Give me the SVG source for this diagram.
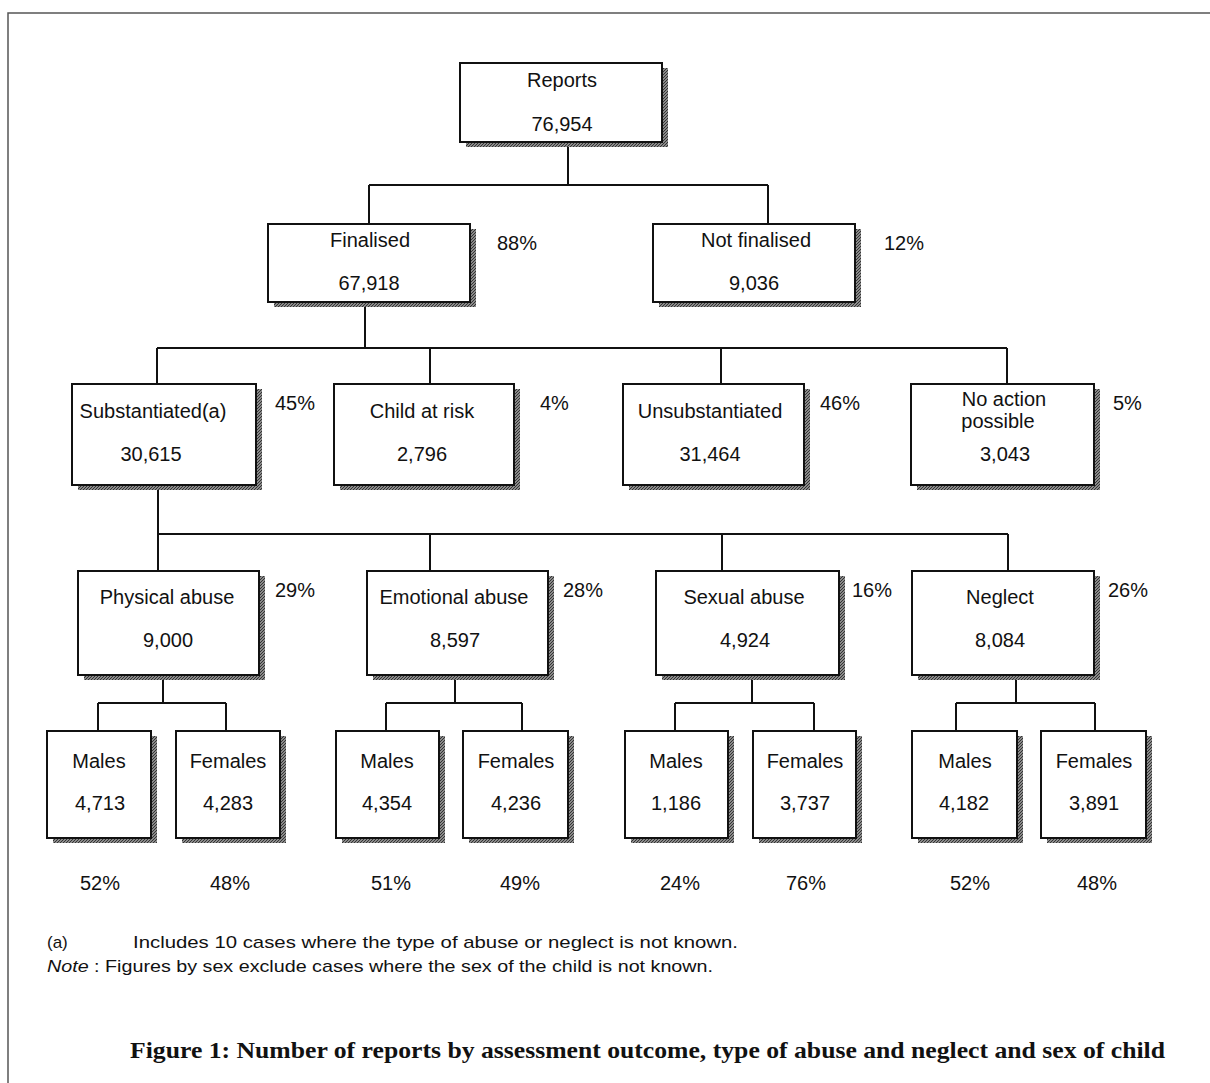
<svg xmlns="http://www.w3.org/2000/svg" width="1210" height="1083" viewBox="0 0 1210 1083">
<defs>
<pattern id="hatch" width="3" height="3" patternUnits="userSpaceOnUse">
<rect width="3" height="3" fill="#8a8a8a"/>
<path d="M0 3 L3 0" stroke="#333" stroke-width="1"/>
</pattern>
</defs>
<style>
.sh{fill:url(#hatch);}
.bx{fill:#fff;stroke:#111;stroke-width:2;}
.t{font-family:"Liberation Sans",Arial,sans-serif;font-size:20px;fill:#111;text-anchor:middle;}
.p{font-family:"Liberation Sans",Arial,sans-serif;font-size:20px;fill:#111;}
.fn{font-family:"Liberation Sans",Arial,sans-serif;font-size:17px;fill:#111;}
.cap{font-family:"Liberation Serif","Times New Roman",serif;font-size:24px;font-weight:bold;fill:#111;}
.ln{fill:none;stroke:#111;stroke-width:2;}
.fr{fill:none;stroke:#555;stroke-width:1.5;}
</style>
<rect width="1210" height="1083" fill="#fff"/>
<path class="fr" d="M8 1083 V13 H1210"/>

<g id="connectors">
<path class="ln" d="M568 142 V185 M369 185 H768 M369 185 V224 M768 185 V224"/>
<path class="ln" d="M365 302 V348 M157 348 H1007 M157 348 V384 M430 348 V384 M721 348 V384 M1007 348 V384"/>
<path class="ln" d="M158 485 V534 M158 534 H1008 M158 534 V571 M430 534 V571 M722 534 V571 M1008 534 V571"/>
<path class="ln" d="M163 675 V703 M98 703 H226 M98 703 V731 M226 703 V731"/>
<path class="ln" d="M455 675 V703 M386 703 H522 M386 703 V731 M522 703 V731"/>
<path class="ln" d="M752 675 V703 M675 703 H814 M675 703 V731 M814 703 V731"/>
<path class="ln" d="M1016 675 V703 M956 703 H1095 M956 703 V731 M1095 703 V731"/>
</g>

<g id="n-reports">
<rect class="sh" x="466" y="68" width="202" height="79"/>
<rect class="bx" x="460" y="63" width="202" height="79"/>
<text class="t" x="562" y="87">Reports</text>
<text class="t" x="562" y="131">76,954</text>
</g>

<g id="n-finalised">
<rect class="sh" x="274" y="229" width="202" height="78"/>
<rect class="bx" x="268" y="224" width="202" height="78"/>
<text class="t" x="370" y="247">Finalised</text>
<text class="t" x="369" y="290">67,918</text>
<text class="p" x="497" y="250">88%</text>
</g>

<g id="n-notfinalised">
<rect class="sh" x="659" y="229" width="202" height="78"/>
<rect class="bx" x="653" y="224" width="202" height="78"/>
<text class="t" x="756" y="247">Not finalised</text>
<text class="t" x="754" y="290">9,036</text>
<text class="p" x="884" y="250">12%</text>
</g>

<g id="n-substantiated">
<rect class="sh" x="78" y="389" width="184" height="101"/>
<rect class="bx" x="72" y="384" width="184" height="101"/>
<text class="t" x="153" y="418">Substantiated(a)</text>
<text class="t" x="151" y="461">30,615</text>
<text class="p" x="275" y="410">45%</text>
</g>

<g id="n-childatrisk">
<rect class="sh" x="340" y="389" width="180" height="101"/>
<rect class="bx" x="334" y="384" width="180" height="101"/>
<text class="t" x="422" y="418">Child at risk</text>
<text class="t" x="422" y="461">2,796</text>
<text class="p" x="540" y="410">4%</text>
</g>

<g id="n-unsubstantiated">
<rect class="sh" x="629" y="389" width="181" height="101"/>
<rect class="bx" x="623" y="384" width="181" height="101"/>
<text class="t" x="710" y="418">Unsubstantiated</text>
<text class="t" x="710" y="461">31,464</text>
<text class="p" x="820" y="410">46%</text>
</g>

<g id="n-noaction">
<rect class="sh" x="917" y="389" width="183" height="101"/>
<rect class="bx" x="911" y="384" width="183" height="101"/>
<text class="t" x="1004" y="406">No action</text>
<text class="t" x="998" y="428">possible</text>
<text class="t" x="1005" y="461">3,043</text>
<text class="p" x="1113" y="410">5%</text>
</g>

<g id="n-physical">
<rect class="sh" x="84" y="576" width="181" height="104"/>
<rect class="bx" x="78" y="571" width="181" height="104"/>
<text class="t" x="167" y="604">Physical abuse</text>
<text class="t" x="168" y="647">9,000</text>
<text class="p" x="275" y="597">29%</text>
</g>

<g id="n-emotional">
<rect class="sh" x="373" y="576" width="181" height="104"/>
<rect class="bx" x="367" y="571" width="181" height="104"/>
<text class="t" x="454" y="604">Emotional abuse</text>
<text class="t" x="455" y="647">8,597</text>
<text class="p" x="563" y="597">28%</text>
</g>

<g id="n-sexual">
<rect class="sh" x="662" y="576" width="183" height="104"/>
<rect class="bx" x="656" y="571" width="183" height="104"/>
<text class="t" x="744" y="604">Sexual abuse</text>
<text class="t" x="745" y="647">4,924</text>
<text class="p" x="852" y="597">16%</text>
</g>

<g id="n-neglect">
<rect class="sh" x="918" y="576" width="182" height="104"/>
<rect class="bx" x="912" y="571" width="182" height="104"/>
<text class="t" x="1000" y="604">Neglect</text>
<text class="t" x="1000" y="647">8,084</text>
<text class="p" x="1108" y="597">26%</text>
</g>

<g id="n-males1">
<rect class="sh" x="53" y="736" width="104" height="107"/>
<rect class="bx" x="47" y="731" width="104" height="107"/>
<text class="t" x="99" y="768">Males</text>
<text class="t" x="100" y="810">4,713</text>
<text class="t" x="100" y="890">52%</text>
</g>
<g id="n-females1">
<rect class="sh" x="182" y="736" width="104" height="107"/>
<rect class="bx" x="176" y="731" width="104" height="107"/>
<text class="t" x="228" y="768">Females</text>
<text class="t" x="228" y="810">4,283</text>
<text class="t" x="230" y="890">48%</text>
</g>

<g id="n-males2">
<rect class="sh" x="342" y="736" width="103" height="107"/>
<rect class="bx" x="336" y="731" width="103" height="107"/>
<text class="t" x="387" y="768">Males</text>
<text class="t" x="387" y="810">4,354</text>
<text class="t" x="391" y="890">51%</text>
</g>
<g id="n-females2">
<rect class="sh" x="469" y="736" width="105" height="107"/>
<rect class="bx" x="463" y="731" width="105" height="107"/>
<text class="t" x="516" y="768">Females</text>
<text class="t" x="516" y="810">4,236</text>
<text class="t" x="520" y="890">49%</text>
</g>

<g id="n-males3">
<rect class="sh" x="631" y="736" width="103" height="107"/>
<rect class="bx" x="625" y="731" width="103" height="107"/>
<text class="t" x="676" y="768">Males</text>
<text class="t" x="676" y="810">1,186</text>
<text class="t" x="680" y="890">24%</text>
</g>
<g id="n-females3">
<rect class="sh" x="759" y="736" width="103" height="107"/>
<rect class="bx" x="753" y="731" width="103" height="107"/>
<text class="t" x="805" y="768">Females</text>
<text class="t" x="805" y="810">3,737</text>
<text class="t" x="806" y="890">76%</text>
</g>

<g id="n-males4">
<rect class="sh" x="918" y="736" width="105" height="107"/>
<rect class="bx" x="912" y="731" width="105" height="107"/>
<text class="t" x="965" y="768">Males</text>
<text class="t" x="964" y="810">4,182</text>
<text class="t" x="970" y="890">52%</text>
</g>
<g id="n-females4">
<rect class="sh" x="1047" y="736" width="105" height="107"/>
<rect class="bx" x="1041" y="731" width="105" height="107"/>
<text class="t" x="1094" y="768">Females</text>
<text class="t" x="1094" y="810">3,891</text>
<text class="t" x="1097" y="890">48%</text>
</g>

<g id="notes">
<text class="fn" x="47" y="948">(a)</text>
<text class="fn" x="133" y="948" textLength="605" lengthAdjust="spacingAndGlyphs">Includes 10 cases where the type of abuse or neglect is not known.</text>
<text class="fn" x="47" y="972" textLength="666" lengthAdjust="spacingAndGlyphs"><tspan font-style="italic">Note</tspan> : Figures by sex exclude cases where the sex of the child is not known.</text>
<text class="cap" x="130" y="1058" textLength="1035" lengthAdjust="spacingAndGlyphs">Figure 1: Number of reports by assessment outcome, type of abuse and neglect and sex of child</text>
</g>
</svg>
